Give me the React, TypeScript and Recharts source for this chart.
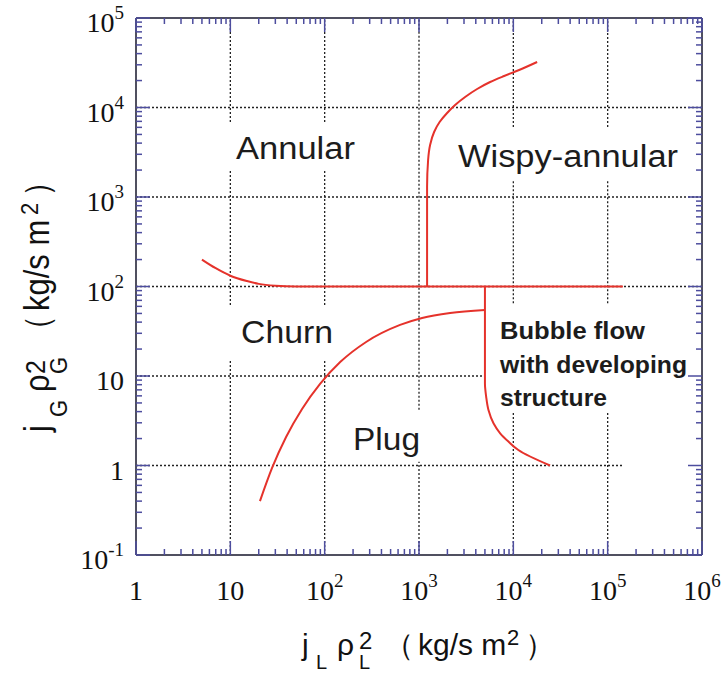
import React from 'react';
import { ComposedChart, Line, XAxis, YAxis, ReferenceLine, Customized } from 'recharts';

// decades and minor multipliers for the log axes
const xDecades = [1, 10, 100, 1000, 10000, 100000, 1000000];
const yDecades = [0.1, 1, 10, 100, 1000, 10000, 100000];
const minorSteps = [2, 3, 4, 5, 6, 7, 8, 9];

const xTickLabels = [['1', ''], ['10', ''], ['10', '2'], ['10', '3'], ['10', '4'], ['10', '5'], ['10', '6']];
const yTickLabels = [['10', '-1'], ['1', ''], ['10', ''], ['10', '2'], ['10', '3'], ['10', '4'], ['10', '5']];

// boundary curves
const annularChurn = [
  { x: 5, y: 200 }, { x: 7, y: 160 }, { x: 10, y: 132 }, { x: 15, y: 115 },
  { x: 20, y: 107 }, { x: 30, y: 102 }, { x: 50, y: 100 }, { x: 145000, y: 100 },
];
const annularWispy = [
  { x: 1218, y: 100 }, { x: 1218, y: 1293 }, { x: 1249, y: 2591 }, { x: 1311, y: 3811 },
  { x: 1446, y: 5324 }, { x: 1654, y: 6887 }, { x: 1986, y: 8679 }, { x: 2414, y: 10665 },
  { x: 3083, y: 13102 }, { x: 4131, y: 16096 }, { x: 5675, y: 19276 }, { x: 7989, y: 22490 },
  { x: 11524, y: 26242 }, { x: 17880, y: 32245 },
];
const churnPlug = [
  { x: 20.6, y: 0.4 }, { x: 27.7, y: 0.94 }, { x: 39, y: 2.08 }, { x: 57.6, y: 4.28 },
  { x: 89.4, y: 8.15 }, { x: 146, y: 14.3 }, { x: 275, y: 24 }, { x: 630, y: 37.2 },
  { x: 1079, y: 44.5 }, { x: 2137, y: 50.6 }, { x: 5000, y: 54.6 },
];
const bubbleBoundary = [
  { x: 5000, y: 100 }, { x: 5000, y: 8.3 }, { x: 5150, y: 5.9 }, { x: 5450, y: 4.17 },
  { x: 6160, y: 2.97 }, { x: 7250, y: 2.29 }, { x: 8870, y: 1.85 }, { x: 11300, y: 1.49 },
  { x: 24500, y: 1 },
];

// where the dotted vertical grid lines are interrupted by the region names
const gridGaps: Record<number, [number, number][]> = {
  10: [[15, 62], [2000, 6900]],
  100: [[15, 62], [2000, 6900]],
  1000: [[1.1, 4.2]],
  10000: [[4, 65], [1550, 6050]],
  100000: [[4, 65], [1550, 6050]],
};

const xTicks = [...xDecades, ...xDecades.slice(0, -1).flatMap((d) => minorSteps.map((m) => m * d))];
const yTicks = [...yDecades, ...yDecades.slice(0, -1).flatMap((d) => minorSteps.map((m) => m * d))];

const RED = '#e5322b';
const TICK = '#4d4d9e';
const FRAME = '#505060';
const GRID = '#222';

const isDecade = (v: number) => Math.abs(Math.log10(v) - Math.round(Math.log10(v))) < 1e-6;
const len = (v: number) => (isDecade(v) ? 14 : 6);

const BottomTick = (props: any) => {
  const { x, y, payload } = props;
  const v = payload.value;
  const i = xDecades.findIndex((d) => Math.abs(d - v) / d < 1e-6);
  return (
    <g>
      <line x1={x} y1={y} x2={x} y2={y - len(v)} stroke={TICK} strokeWidth={1.5} />
      {i >= 0 && (
        <text x={x} y={600} textAnchor="middle" fontFamily="Liberation Serif" fontSize={28} fill="#111">
          {xTickLabels[i][0]}
          {xTickLabels[i][1] && <tspan dy={-13} fontSize={19}>{xTickLabels[i][1]}</tspan>}
        </text>
      )}
    </g>
  );
};

const TopTick = (props: any) => {
  const { x, y, payload } = props;
  return <line x1={x} y1={y} x2={x} y2={y + len(payload.value)} stroke={TICK} strokeWidth={1.5} />;
};

const LeftTick = (props: any) => {
  const { x, y, payload } = props;
  const v = payload.value;
  const i = yDecades.findIndex((d) => Math.abs(d - v) / d < 1e-6);
  return (
    <g>
      <line x1={x} y1={y} x2={x + len(v)} y2={y} stroke={TICK} strokeWidth={1.5} />
      {i >= 0 && (
        <text x={124} y={y + 14} textAnchor="end" fontFamily="Liberation Serif" fontSize={28} fill="#111">
          {yTickLabels[i][0]}
          {yTickLabels[i][1] && <tspan dy={-13} fontSize={19}>{yTickLabels[i][1]}</tspan>}
        </text>
      )}
    </g>
  );
};

const RightTick = (props: any) => {
  const { x, y, payload } = props;
  return <line x1={x} y1={y} x2={x - len(payload.value)} y2={y} stroke={TICK} strokeWidth={1.5} />;
};

const regionFont = { fontFamily: 'Liberation Sans', fill: '#1c1c1c' };

const Labels = () => (
  <g>
    <text x={236} y={159} fontSize={31} textLength={119} lengthAdjust="spacingAndGlyphs" {...regionFont}>Annular</text>
    <text x={458} y={167} fontSize={31} textLength={220} lengthAdjust="spacingAndGlyphs" {...regionFont}>Wispy-annular</text>
    <text x={241} y={343} fontSize={31} textLength={92} lengthAdjust="spacingAndGlyphs" {...regionFont}>Churn</text>
    <text x={353} y={450} fontSize={31} textLength={67} lengthAdjust="spacingAndGlyphs" {...regionFont}>Plug</text>
    <text x={500} y={339} fontSize={23} fontWeight="bold" textLength={145} lengthAdjust="spacingAndGlyphs" {...regionFont}>Bubble flow</text>
    <text x={500} y={373} fontSize={23} fontWeight="bold" textLength={187} lengthAdjust="spacingAndGlyphs" {...regionFont}>with developing</text>
    <text x={500} y={406} fontSize={23} fontWeight="bold" textLength={107} lengthAdjust="spacingAndGlyphs" {...regionFont}>structure</text>

    {/* x axis title */}
    <text fontFamily="Liberation Sans" fontSize={30} fill="#111">
      <tspan x={302} y={655}>j</tspan>
      <tspan x={316} y={669} fontSize={20}>L</tspan>
      <tspan x={337} y={655}>ρ</tspan>
      <tspan x={359} y={649} fontSize={24}>2</tspan>
      <tspan x={359} y={669} fontSize={20}>L</tspan>
      <tspan x={384} y={655}>（</tspan>
      <tspan x={418} y={655}>kg/s m</tspan>
      <tspan x={507} y={645} fontSize={22}>2</tspan>
      <tspan x={525} y={655}>）</tspan>
    </text>

    {/* y axis title */}
    <g transform="translate(49, 432) rotate(-90) scale(1, 1.12)">
      <text fontFamily="Liberation Sans" fontSize={31} fill="#111">
        <tspan x={0} y={0}>j</tspan>
        <tspan x={15} y={16} fontSize={22}>G</tspan>
        <tspan x={40} y={0}>ρ</tspan>
        <tspan x={58} y={-4} fontSize={25}>2</tspan>
        <tspan x={58} y={16} fontSize={22}>G</tspan>
        <tspan x={86} y={0}>（</tspan>
        <tspan x={121} y={0}>kg/s m</tspan>
        <tspan x={217} y={-10} fontSize={22}>2</tspan>
        <tspan x={235} y={0}>）</tspan>
      </text>
    </g>
  </g>
);

const grid = { stroke: GRID, strokeDasharray: '2 2', strokeWidth: 1.3, xAxisId: 'b', yAxisId: 'l', ifOverflow: 'visible' as const };

// split a vertical grid line into the visible pieces
const pieces = (gaps: [number, number][]) => {
  const out: [number, number][] = [];
  let from = 0.1;
  gaps.forEach(([a, b]) => {
    out.push([from, a]);
    from = b;
  });
  out.push([from, 100000]);
  return out;
};

export default function App() {
  return (
    <div style={{ position: 'absolute', left: 0, top: 0, background: '#fff' }}>
      <ComposedChart width={724} height={675} margin={{ top: 0, right: 0, bottom: 0, left: 0 }}>
        <XAxis
          xAxisId="b" orientation="bottom" type="number" scale="log" domain={[1, 1000000]}
          allowDataOverflow ticks={xTicks} interval={0} height={120} tickSize={0} tickMargin={0}
          tickLine={false} axisLine={{ stroke: FRAME, strokeWidth: 2 }} tick={BottomTick} dataKey="x"
        />
        <XAxis
          xAxisId="t" orientation="top" type="number" scale="log" domain={[1, 1000000]}
          allowDataOverflow ticks={xTicks} interval={0} height={18} tickSize={0} tickMargin={0}
          tickLine={false} axisLine={{ stroke: FRAME, strokeWidth: 2 }} tick={TopTick} dataKey="x"
        />
        <YAxis
          yAxisId="l" orientation="left" type="number" scale="log" domain={[0.1, 100000]}
          allowDataOverflow ticks={yTicks} interval={0} width={136} tickSize={0} tickMargin={0}
          tickLine={false} axisLine={{ stroke: FRAME, strokeWidth: 2 }} tick={LeftTick} dataKey="y"
        />
        <YAxis
          yAxisId="r" orientation="right" type="number" scale="log" domain={[0.1, 100000]}
          allowDataOverflow ticks={yTicks} interval={0} width={22} tickSize={0} tickMargin={0}
          tickLine={false} axisLine={{ stroke: FRAME, strokeWidth: 2 }} tick={RightTick} dataKey="y"
        />

        {Object.entries(gridGaps).flatMap(([xv, gaps]) =>
          pieces(gaps).map(([a, b]) => (
            <ReferenceLine key={`gx${xv}-${a}`} segment={[{ x: Number(xv), y: a }, { x: Number(xv), y: b }]} {...grid} />
          ))
        )}
        {[100, 1000, 10000].map((v) => (
          <ReferenceLine key={'gy' + v} y={v} {...grid} />
        ))}
        <ReferenceLine segment={[{ x: 1, y: 10 }, { x: 5000, y: 10 }]} {...grid} />
        <ReferenceLine segment={[{ x: 1, y: 1 }, { x: 145000, y: 1 }]} {...grid} />

        <Line xAxisId="b" yAxisId="l" data={annularChurn} dataKey="y" type="monotoneX" stroke={RED} strokeWidth={2} dot={false} isAnimationActive={false} />
        <Line xAxisId="b" yAxisId="l" data={annularWispy} dataKey="y" type="monotoneY" stroke={RED} strokeWidth={2} dot={false} isAnimationActive={false} />
        <Line xAxisId="b" yAxisId="l" data={churnPlug} dataKey="y" type="monotoneX" stroke={RED} strokeWidth={2} dot={false} isAnimationActive={false} />
        <Line xAxisId="b" yAxisId="l" data={bubbleBoundary} dataKey="y" type="monotoneY" stroke={RED} strokeWidth={2} dot={false} isAnimationActive={false} />

        <Customized component={Labels} />
      </ComposedChart>
    </div>
  );
}
